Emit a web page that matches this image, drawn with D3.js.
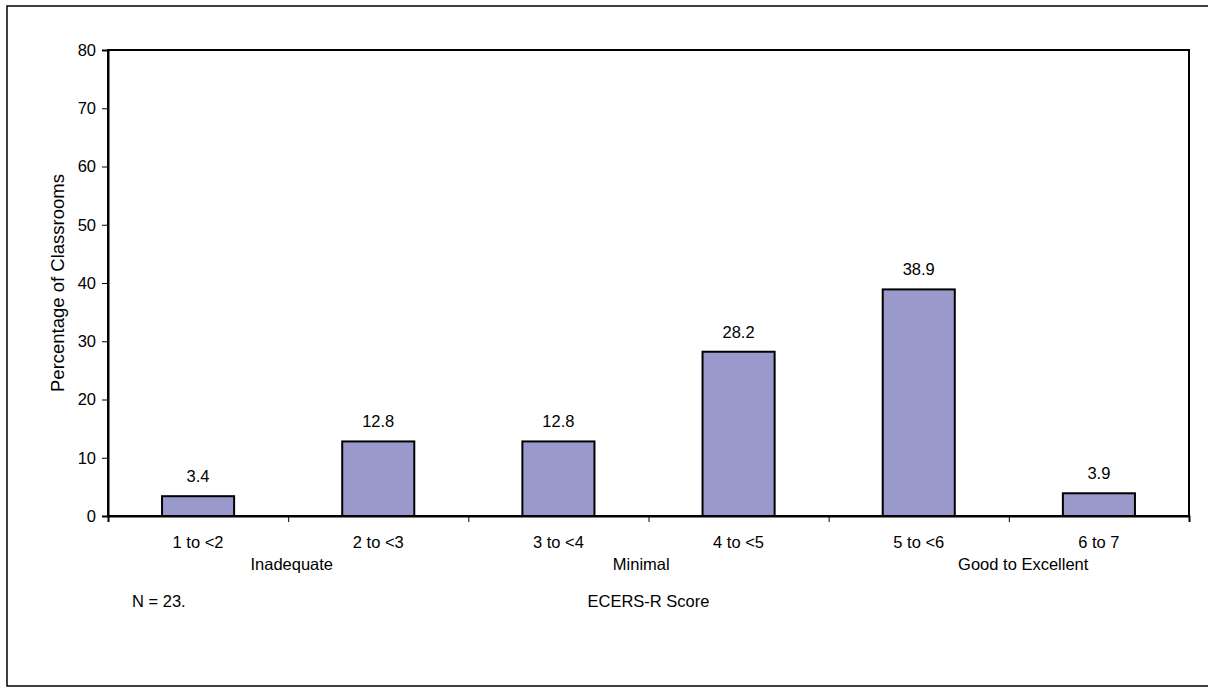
<!DOCTYPE html>
<html><head><meta charset="utf-8">
<script src="https://cdn.jsdelivr.net/npm/d3@7/dist/d3.min.js"></script>
<style>
html,body{margin:0;padding:0;background:#fff;}
text{font-family:"Liberation Sans",Arial,sans-serif;fill:#000;}
</style></head>
<body>
<svg id="chart" width="1208" height="688"></svg>
<script>
const categories = ["1 to <2","2 to <3","3 to <4","4 to <5","5 to <6","6 to 7"];
const values = [3.4, 12.8, 12.8, 28.2, 38.9, 3.9];
const yTicks = [0,10,20,30,40,50,60,70,80];
const groupLabels = ["Inadequate","Minimal","Good to Excellent"];
const groupPositions = [1.02, 2.96, 5.08]; // in category units along the axis
const yTitle = "Percentage of Classrooms";
const xTitle = "ECERS-R Score";
const note = "N = 23.";

const svg = d3.select("#chart");
const fs = 16.5;
const L = 108, R = 1189, T = 50, B = 516;

// outer frame
svg.append("rect").attr("x",7).attr("y",6).attr("width",1210).attr("height",680)
  .attr("fill","none").attr("stroke","#000").attr("stroke-width",1.5);

const x = d3.scaleBand().domain(categories).range([L,R]).paddingInner(0).paddingOuter(0);
const xl = d3.scaleLinear().domain([0,categories.length]).range([L,R]);
const y = d3.scaleLinear().domain([0,80]).range([B,T]);

// plot box
svg.append("rect").attr("x",L).attr("y",T).attr("width",R-L).attr("height",B-T)
  .attr("fill","none").attr("stroke","#000").attr("stroke-width",2);

// y axis
const yAxis = svg.append("g").attr("transform",`translate(${L},0)`)
  .call(d3.axisLeft(y).tickValues(yTicks).tickSize(6).tickPadding(6));
yAxis.select(".domain").attr("stroke","#000").attr("stroke-width",2);
yAxis.selectAll(".tick line").attr("stroke","#000").attr("stroke-width",1);
yAxis.selectAll("text").style("font-size",fs+"px").style("font-family","'Liberation Sans',Arial,sans-serif").attr("fill","#000");

// x axis ticks at category boundaries
const xAxis = svg.append("g").attr("transform",`translate(0,${B})`)
  .call(d3.axisBottom(xl).tickValues(d3.range(0,categories.length+1)).tickSize(6).tickFormat(""));
xAxis.select(".domain").attr("stroke","#000").attr("stroke-width",2);
xAxis.selectAll(".tick line").attr("stroke","#000").attr("stroke-width",1);

// category labels
svg.append("g").selectAll("text").data(categories).join("text")
  .attr("x",d=>x(d)+x.bandwidth()/2).attr("y",548)
  .attr("text-anchor","middle").style("font-size",fs+"px").text(d=>d);

// group labels
svg.append("g").selectAll("text").data(groupLabels).join("text")
  .attr("x",(d,i)=>xl(groupPositions[i])).attr("y",570)
  .attr("text-anchor","middle").style("font-size",fs+"px").text(d=>d);

// bars
const bw = x.bandwidth()*0.4;
svg.append("g").selectAll("rect").data(values).join("rect")
  .attr("x",(d,i)=>x(categories[i])+x.bandwidth()/2-bw/2)
  .attr("y",d=>y(d)).attr("width",bw).attr("height",d=>B-y(d))
  .attr("fill","#9999CC").attr("stroke","#000").attr("stroke-width",2);

// value labels
svg.append("g").selectAll("text").data(values).join("text")
  .attr("x",(d,i)=>x(categories[i])+x.bandwidth()/2).attr("y",d=>y(d)-14)
  .attr("text-anchor","middle").style("font-size",fs+"px").text(d=>d.toFixed(1));

// redraw baseline on top
svg.append("line").attr("x1",L).attr("x2",R).attr("y1",B).attr("y2",B).attr("stroke","#000").attr("stroke-width",2);

// titles
svg.append("text").attr("transform",`translate(64,${(T+B)/2}) rotate(-90)`)
  .attr("text-anchor","middle").style("font-size","18.5px").text(yTitle);
svg.append("text").attr("x",xl(3)).attr("y",607).attr("text-anchor","middle").style("font-size",fs+"px").text(xTitle);
svg.append("text").attr("x",132).attr("y",607).attr("text-anchor","start").style("font-size",fs+"px").text(note);
</script>
</body></html>
